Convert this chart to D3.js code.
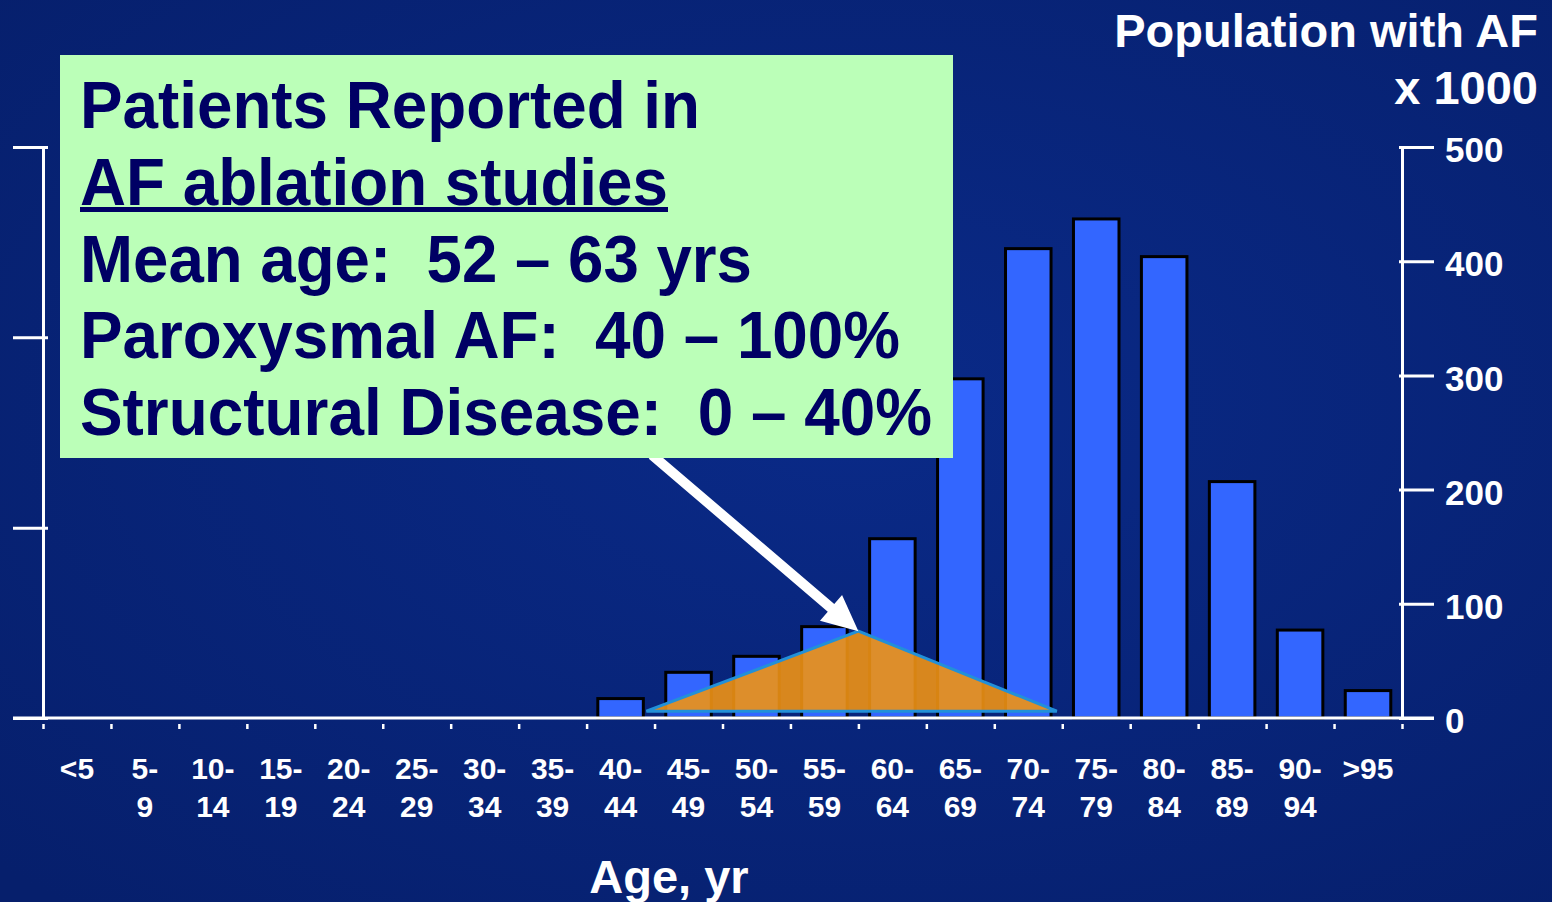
<!DOCTYPE html>
<html>
<head>
<meta charset="utf-8">
<script src="https://cdn.jsdelivr.net/npm/d3@7"></script>
<style>
  html, body { margin: 0; padding: 0; overflow: hidden; background: #08237a; }
  text { font-family: "Liberation Sans", Arial, sans-serif; font-weight: bold; }
</style>
</head>
<body>
<div id="chart"></div>
<script>
// data
var ages = ["<5", "5-9", "10-14", "15-19", "20-24", "25-29", "30-34", "35-39", "40-44", "45-49",
  "50-54", "55-59", "60-64", "65-69", "70-74", "75-79", "80-84", "85-89", "90-94", ">95"];
var population = [0, 0, 0, 0, 0, 0, 0, 0, 17, 40, 54, 80, 157, 297, 411, 437, 404, 207, 77, 24];
var yTicks = [0, 100, 200, 300, 400, 500];
var leftTicks = [0, 1, 2, 3];
// ablation study population sketch (age, value)
var ablation = [{ age: 44.4, v: 6 }, { age: 60, v: 76 }, { age: 74.6, v: 6 }];
var boxLines = [
  "Patients Reported in",
  "AF ablation studies",
  "Mean age:  52 \u2013 63 yrs",
  "Paroxysmal AF:  40 \u2013 100%",
  "Structural Disease:  0 \u2013 40%"
];
var boxWidths = [620, 588, 672, 820, 852];

var width = 1552, height = 902;
var plotLeft = 43, plotRight = 1402, plotTop = 147, plotBottom = 718;

var svg = d3.select("#chart").append("svg")
  .attr("width", width)
  .attr("height", height);

var defs = svg.append("defs");
var grad = defs.append("radialGradient").attr("id", "bg")
  .attr("cx", "55%").attr("cy", "45%").attr("r", "75%");
grad.append("stop").attr("offset", "0%").attr("stop-color", "#0a2a88");
grad.append("stop").attr("offset", "100%").attr("stop-color", "#061f6c");

svg.append("rect").attr("width", width).attr("height", height).attr("fill", "url(#bg)");

var x = d3.scaleBand().domain(ages).range([plotLeft, plotRight]).paddingInner(0.33).paddingOuter(0.165);
var ageX = d3.scaleLinear().domain([0, 100]).range([plotLeft, plotRight]);
var y = d3.scaleLinear().domain([0, 500]).range([plotBottom, plotTop]);
var yLeft = d3.scaleLinear().domain([0, 3]).range([plotBottom, plotTop]);

// bars
svg.append("g")
  .selectAll("rect")
  .data(ages.map(function (a, i) { return { a: a, v: population[i] }; }).filter(function (d) { return d.v > 0; }))
  .enter()
  .append("rect")
  .attr("x", function (d) { return x(d.a); })
  .attr("y", function (d) { return y(d.v); })
  .attr("width", x.bandwidth())
  .attr("height", function (d) { return y(0) - y(d.v); })
  .attr("fill", "#3366ff")
  .attr("stroke", "#000")
  .attr("stroke-width", 3);

// right axis
var rAxis = svg.append("g")
  .attr("transform", "translate(" + plotRight + ",0)")
  .call(d3.axisRight(y).tickValues(yTicks).tickSize(32).tickPadding(11).tickSizeOuter(0));
rAxis.select(".domain").attr("stroke", "#fff").attr("stroke-width", 3);
rAxis.selectAll(".tick line").attr("stroke", "#fff").attr("stroke-width", 3).attr("x1", -3);
rAxis.selectAll(".tick text").attr("fill", "#fff").attr("font-size", 35)
  .attr("font-family", "Liberation Sans, Arial, sans-serif").attr("dy", "0.42em");

// left axis, no labels
var lAxis = svg.append("g")
  .attr("transform", "translate(" + plotLeft + ",0)")
  .call(d3.axisLeft(yLeft).tickValues(leftTicks).tickSize(30).tickFormat("").tickSizeOuter(0));
lAxis.select(".domain").attr("stroke", "#fff").attr("stroke-width", 3);
lAxis.selectAll(".tick line").attr("stroke", "#fff").attr("stroke-width", 3).attr("x1", 5);

// baseline
svg.append("line")
  .attr("x1", 13).attr("x2", plotRight + 32)
  .attr("y1", y(0)).attr("y2", y(0))
  .attr("stroke", "#fff").attr("stroke-width", 3);

// small boundary ticks below baseline
var bAxis = svg.append("g")
  .attr("transform", "translate(0," + (y(0) + 6) + ")")
  .call(d3.axisBottom(ageX).tickValues(d3.range(0, 101, 5)).tickSize(5).tickFormat(""));
bAxis.select(".domain").remove();
bAxis.selectAll(".tick line").attr("stroke", "#fff").attr("stroke-width", 2.5);

// category labels
var lab = svg.append("g").selectAll("text")
  .data(ages)
  .enter()
  .append("text")
  .attr("text-anchor", "middle")
  .attr("fill", "#fff")
  .attr("font-size", 30)
  .attr("x", function (d) { return x(d) + x.bandwidth() / 2; })
  .attr("y", 779);
lab.each(function (d) {
  var parts = d.indexOf("-") > 0 ? [d.split("-")[0] + "-", d.split("-")[1]] : [d];
  var t = d3.select(this);
  parts.forEach(function (p, i) {
    t.append("tspan")
      .attr("x", x(d) + x.bandwidth() / 2)
      .attr("dy", i === 0 ? 0 : 38)
      .text(p);
  });
});

// axis titles
svg.append("text").attr("x", 669).attr("y", 893).attr("text-anchor", "middle")
  .attr("fill", "#fff").attr("font-size", 47).text("Age, yr");
svg.append("text").attr("x", 1538).attr("y", 47).attr("text-anchor", "end")
  .attr("fill", "#fff").attr("font-size", 47).text("Population with AF");
svg.append("text").attr("x", 1538).attr("y", 104).attr("text-anchor", "end")
  .attr("fill", "#fff").attr("font-size", 47).text("x 1000");

// ablation triangle
svg.append("path")
  .datum(ablation)
  .attr("d", d3.line().x(function (d) { return ageX(d.age); }).y(function (d) { return y(d.v); }).curve(d3.curveLinearClosed))
  .attr("fill", "rgb(240,146,20)")
  .attr("fill-opacity", 0.9)
  .attr("stroke", "#2290d8")
  .attr("stroke-width", 3)
  .attr("stroke-linejoin", "miter");

// arrow from box to apex
var tip = [ageX(ablation[1].age), y(ablation[1].v)];
var start = [652, 455];
var dx = tip[0] - start[0], dy = tip[1] - start[1];
var len = Math.sqrt(dx * dx + dy * dy);
var ux = dx / len, uy = dy / len, px = -uy, py = ux;
var headLen = 36, headW = 17, shaftW = 5;
var bx = tip[0] - ux * headLen, by = tip[1] - uy * headLen;
var arrowPts = [
  [start[0] + px * shaftW, start[1] + py * shaftW],
  [bx + px * shaftW, by + py * shaftW],
  [bx + px * headW, by + py * headW],
  tip,
  [bx - px * headW, by - py * headW],
  [bx - px * shaftW, by - py * shaftW],
  [start[0] - px * shaftW, start[1] - py * shaftW]
];
svg.append("polygon")
  .attr("points", arrowPts.map(function (p) { return p.join(","); }).join(" "))
  .attr("fill", "#fff");

// green text box
svg.append("rect")
  .attr("x", 60).attr("y", 55).attr("width", 893).attr("height", 403)
  .attr("fill", "#bbffb8");

svg.append("g").selectAll("text")
  .data(boxLines)
  .enter()
  .append("text")
  .attr("x", 80)
  .attr("y", function (d, i) { return 128 + i * 76.8; })
  .attr("fill", "#000064")
  .attr("font-size", 67)
  .style("white-space", "pre")
  .attr("textLength", function (d, i) { return boxWidths[i]; })
  .attr("lengthAdjust", "spacingAndGlyphs")
  .text(function (d) { return d; });

// underline second line
svg.append("rect")
  .attr("x", 80).attr("y", 207).attr("width", boxWidths[1]).attr("height", 5)
  .attr("fill", "#000064");
</script>
</body>
</html>
